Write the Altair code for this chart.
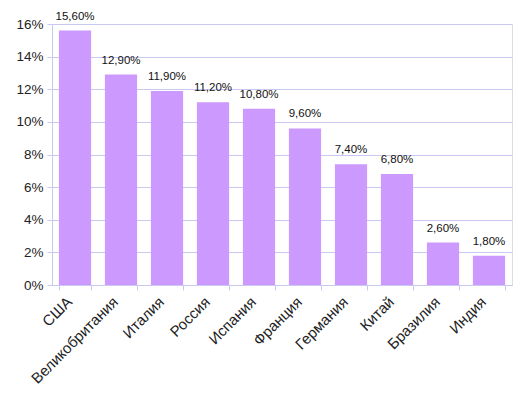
import altair as alt
import pandas as pd

countries = ["США", "Великобритания", "Италия", "Россия", "Испания",
             "Франция", "Германия", "Китай", "Бразилия", "Индия"]
values = [15.6, 12.9, 11.9, 11.2, 10.8, 9.6, 7.4, 6.8, 2.6, 1.8]

df = pd.DataFrame({
    "country": countries,
    "value": [v / 100 for v in values],
    "label": [f"{v:.2f}%".replace(".", ",") for v in values],
})

axis_col = "#C8C8F0"
font = "Liberation Sans"

base = alt.Chart(df).encode(
    x=alt.X("country:N", sort=countries, title=None,
            scale=alt.Scale(paddingInner=0.3, paddingOuter=0.15),
            axis=alt.Axis(labelAngle=-45, labelAlign="right", labelBaseline="middle",
                          labelFontSize=15, labelColor="#222", labelFont=font,
                          tickBand="extent", tickColor=axis_col, tickSize=5,
                          domainColor=axis_col, labelPadding=9, labelOffset=-6)),
    y=alt.Y("value:Q", title=None,
            scale=alt.Scale(domain=[0, 0.16], nice=False),
            axis=alt.Axis(format=".0%", values=[i / 100 for i in range(0, 17, 2)],
                          labelFontSize=13.5, labelColor="#222", labelFont=font,
                          gridColor=axis_col, tickColor=axis_col, tickSize=5,
                          domainColor=axis_col, labelPadding=4)),
)

bars = base.mark_bar(color="#CC99FF")
text = base.mark_text(dy=-14, fontSize=11.5, font=font, color="#111").encode(text="label:N")

chart = (bars + text).properties(
    width=460, height=261,
    autosize=alt.AutoSizeParams(type="none"),
    padding={"left": 44, "top": 16, "right": 9, "bottom": 110},
).configure_view(stroke=axis_col).configure(background="white")

chart.save("out.html", embed_options={"renderer": "svg", "actions": False})
